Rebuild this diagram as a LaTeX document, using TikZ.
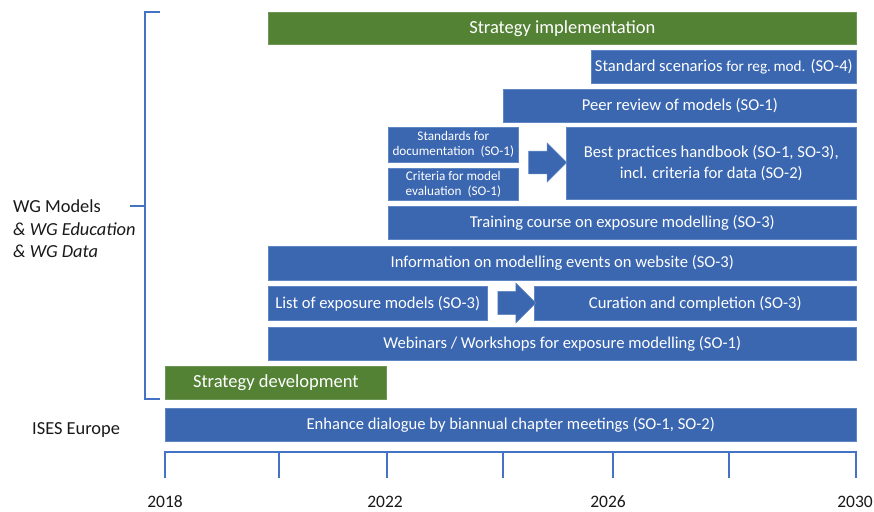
\documentclass[tikz,border=0pt]{standalone}
\usepackage{fontspec}
\setmainfont{Carlito}
\usetikzlibrary{shapes.arrows}
\definecolor{barblue}{RGB}{59,103,177}
\definecolor{baredge}{RGB}{96,134,196}
\definecolor{bargreen}{RGB}{84,130,53}
\definecolor{greenedge}{RGB}{110,150,85}
\definecolor{lineblue}{RGB}{68,114,196}
\definecolor{labeltext}{RGB}{25,25,25}

\begin{document}
\begin{tikzpicture}[x=1pt,y=-1pt,
  bar/.style={fill=barblue, draw=baredge, line width=0.6pt, text=white,
    anchor=north west, inner sep=0pt, align=center,
    font=\fontsize{16.6}{21.5}\selectfont},
  greenbar/.style={bar, fill=bargreen, draw=greenedge,
    font=\fontsize{18.5}{22}\selectfont},
  smallbar/.style={bar, font=\fontsize{13.2}{15}\selectfont},
  blockarrow/.style={single arrow, fill=barblue, draw=baredge, line width=0.6pt,
    inner xsep=0pt, inner ysep=9.5pt, single arrow tip angle=90,
    minimum width=39pt, minimum height=38pt},
  bracket/.style={draw=lineblue, line width=1.6pt},
  axisline/.style={draw=lineblue, line width=1.6pt},
  grouplabel/.style={anchor=west, inner sep=0pt, text=labeltext,
    font=\fontsize{18.4}{21}\selectfont},
  yearlabel/.style={inner sep=0pt, text=labeltext,
    font=\fontsize{17.5}{20}\selectfont}
]
\useasboundingbox (0,0) rectangle (874,511);

% activity bars
\node[greenbar, minimum width=588pt, minimum height=32pt] (impl) at (268,12) {Strategy implementation};
\node[bar, minimum width=265pt, minimum height=33pt] (scen) at (591,50) {Standard scenarios {\fontsize{15.2}{17}\selectfont for reg.\,mod.} (SO-4)};
\node[bar, minimum width=353pt, minimum height=33pt] (peer) at (503,89) {Peer review of models (SO-1)};
\node[smallbar, minimum width=130pt, minimum height=35pt] (docs) at (388,127) {Standards for\\documentation~~(SO-1)};
\node[smallbar, minimum width=130pt, minimum height=32pt] (crit) at (388,168) {Criteria for model\\evaluation~~(SO-1)};
\node[bar, minimum width=290pt, minimum height=72pt] (best) at (566,127) {Best practices handbook (SO-1, SO-3),\\incl. criteria for data (SO-2)};
\node[bar, minimum width=468pt, minimum height=33pt] (train) at (388,206) {Training course on exposure modelling (SO-3)};
\node[bar, minimum width=588pt, minimum height=34pt] (info) at (268,246) {Information on modelling events on website (SO-3)};
\node[bar, minimum width=219pt, minimum height=34pt] (list) at (268,286) {List of exposure models (SO-3)};
\node[bar, minimum width=322pt, minimum height=34pt] (cur) at (534,286) {Curation and completion (SO-3)};
\node[bar, minimum width=588pt, minimum height=33pt] (web) at (268,327) {Webinars / Workshops for exposure modelling (SO-1)};
\node[greenbar, minimum width=221pt, minimum height=33pt] (dev) at (165,366) {Strategy development};
\node[bar, minimum width=691pt, minimum height=33pt] (ises) at (165,408) {Enhance dialogue by biannual chapter meetings (SO-1, SO-2)};

% block arrows between successive activities
\node[blockarrow] (arrA) at (542,162.5) {};
\node[blockarrow, minimum width=40pt] (arrB) at (511,303) {};

% bracket for the working groups
\coordinate (btop) at (160,12);
\coordinate (bbot) at (160,399);
\draw[bracket] (btop) -- (145,12) -- (145,399) -- (bbot);
\draw[bracket] (130,206) -- (145,206);

% group labels
\node[grouplabel] (wgA) at (13,206) {WG Models};
\node[grouplabel] (wgB) at (13,229) {\itshape \& WG Education};
\node[grouplabel] (wgC) at (13,251) {\itshape \& WG Data};
\node[grouplabel] (isesl) at (32,430) {ISES Europe};

% time axis
\draw[axisline] (165,478) -- (165,452) -- (856,452) -- (856,478);
\foreach \tx in {279,387,503,613,729}
  \draw[axisline] (\tx,452) -- (\tx,478);
\node[yearlabel] (y18) at (165,502) {2018};
\node[yearlabel] (y22) at (385,502) {2022};
\node[yearlabel] (y26) at (608,502) {2026};
\node[yearlabel] (y30) at (855,502) {2030};
\end{tikzpicture}
\end{document}
